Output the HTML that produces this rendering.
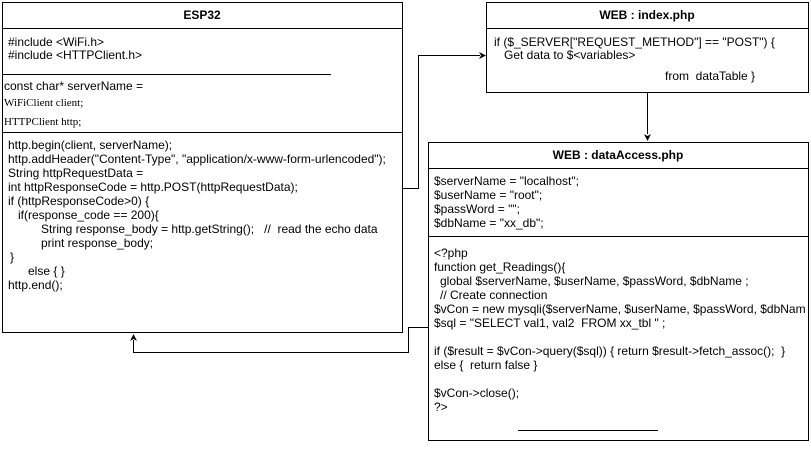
<!DOCTYPE html>
<html><head><style>
body{margin:0;background:#fff;}
svg text{font-family:"Liberation Sans",Arial,sans-serif;font-size:12px;fill:#000;white-space:pre;}
.s{font-family:"Liberation Serif",serif !important;font-size:11px !important;}
.b{font-weight:bold;font-size:12px;}
</style></head><body>
<svg width="811" height="445" xmlns="http://www.w3.org/2000/svg" xml:space="preserve">
<g fill="none" stroke="#000" stroke-width="1">
<rect x="2.5" y="2.5" width="400" height="330"/>
<line x1="2.5" y1="28.5" x2="402.5" y2="28.5"/>
<line x1="3" y1="74.5" x2="331" y2="74.5"/>
<line x1="2.5" y1="132.5" x2="402.5" y2="132.5"/>
<rect x="486.5" y="2.5" width="322" height="90"/>
<line x1="486.5" y1="28.5" x2="808.5" y2="28.5"/>
<rect x="428.5" y="142.5" width="380" height="298"/>
<line x1="428.5" y1="168.5" x2="808.5" y2="168.5"/>
<line x1="428.5" y1="236.5" x2="808.5" y2="236.5"/>
<line x1="518" y1="430.5" x2="658" y2="430.5"/>
<polyline points="402.5,188.5 418.5,188.5 418.5,55.5 480,55.5"/>
<line x1="647.5" y1="92.5" x2="647.5" y2="134"/>
<polyline points="428.5,327.5 408.5,327.5 408.5,352.5 133.5,352.5 133.5,340"/>
</g>
<g fill="#000">
<polygon points="486,55.5 479,52 481,55.5 479,59"/>
<polygon points="647.5,141 644,134 647.5,136 651,134"/>
<polygon points="133.5,334 130,341 133.5,339 137,341"/>
</g>
<text x="202" y="19" text-anchor="middle" class="b">ESP32</text>
<text x="8" y="46">#include &lt;WiFi.h&gt;</text>
<text x="8" y="59">#include &lt;HTTPClient.h&gt;</text>
<text x="4" y="90">const char* serverName =</text>
<text x="4" y="106" class="s">WiFiClient client;</text>
<text x="4" y="125" class="s">HTTPClient http;</text>
<text x="8" y="149">http.begin(client, serverName);</text>
<text x="8" y="163">http.addHeader("Content-Type", "application/x-www-form-urlencoded");</text>
<text x="8" y="177">String httpRequestData =</text>
<text x="8" y="191">int httpResponseCode = http.POST(httpRequestData);</text>
<text x="8" y="205">if (httpResponseCode&gt;0) {</text>
<text x="18" y="219">if(response_code == 200){</text>
<text x="41" y="233">String response_body = http.getString();   //  read the echo data</text>
<text x="41" y="247">print response_body;</text>
<text x="10" y="261">}</text>
<text x="28" y="275">else { }</text>
<text x="8" y="289">http.end();</text>
<text x="647" y="19" text-anchor="middle" class="b">WEB : index.php</text>
<text x="494" y="46">if ($_SERVER["REQUEST_METHOD"] == "POST") {</text>
<text x="504" y="59">Get data to $&lt;variables&gt;</text>
<text x="665" y="80">from  dataTable }</text>
<text x="618" y="159" text-anchor="middle" class="b">WEB : dataAccess.php</text>
<text x="434" y="185">$serverName = "localhost";</text>
<text x="434" y="199">$userName = "root";</text>
<text x="434" y="213">$passWord = "";</text>
<text x="434" y="227">$dbName = "xx_db";</text>
<text x="434" y="257">&lt;?php</text>
<text x="434" y="271">function get_Readings(){</text>
<text x="440" y="285">global $serverName, $userName, $passWord, $dbName ;</text>
<text x="440" y="299">// Create connection</text>
<text x="434" y="313">$vCon = new mysqli($serverName, $userName, $passWord, $dbNam</text>
<text x="434" y="327">$sql = "SELECT val1, val2  FROM xx_tbl " ;</text>
<text x="434" y="355">if ($result = $vCon-&gt;query($sql)) { return $result-&gt;fetch_assoc();  }</text>
<text x="434" y="369">else {  return false }</text>
<text x="434" y="397">$vCon-&gt;close();</text>
<text x="434" y="411">?&gt;</text>
</svg>
</body></html>
